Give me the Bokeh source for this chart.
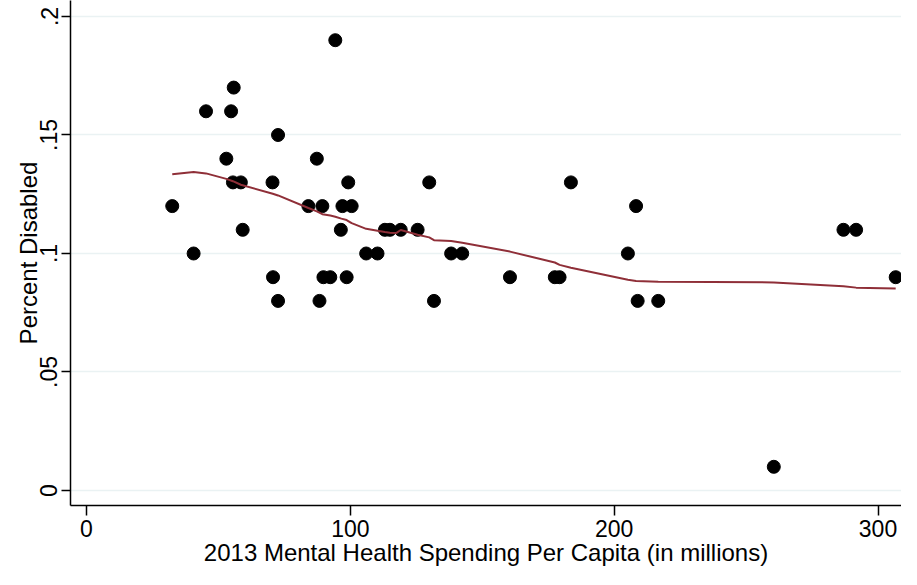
from bokeh.plotting import figure
from bokeh.models import FixedTicker, CustomJSTickFormatter, Range1d, ColumnDataSource
from bokeh.embed import file_html
from bokeh.resources import INLINE

# Scatter data: 2013 mental health spending per capita vs percent disabled
spending = [32.5, 40.6, 45.3, 53.0, 54.8, 55.8, 55.5, 58.5, 59.2, 70.5, 70.7, 72.6, 72.6,
            84.1, 87.3, 88.3, 89.4, 89.8, 92.4, 94.3, 96.4, 97.0, 98.6, 99.2, 100.5,
            106.0, 110.3, 113.1, 115.0, 119.1, 125.5, 129.9, 131.7, 138.2, 142.4,
            160.5, 177.5, 179.3, 183.6, 205.2, 208.3, 208.9, 216.7, 260.5, 286.9, 291.7, 306.7]
disabled = [0.12, 0.10, 0.16, 0.14, 0.16, 0.17, 0.13, 0.13, 0.11, 0.13, 0.09, 0.15, 0.08,
            0.12, 0.14, 0.08, 0.12, 0.09, 0.09, 0.19, 0.11, 0.12, 0.09, 0.13, 0.12,
            0.10, 0.10, 0.11, 0.11, 0.11, 0.11, 0.13, 0.08, 0.10, 0.10,
            0.09, 0.09, 0.09, 0.13, 0.10, 0.12, 0.08, 0.08, 0.01, 0.11, 0.11, 0.09]

# Lowess smoother
fit_x = [32.5, 40.6, 45.3, 53.0, 55.5, 58.5, 70.6, 72.6, 84.1, 87.3, 89.4, 92.4, 94.3,
         96.6, 98.6, 99.2, 100.5, 106.0, 110.3, 113.1, 115.0, 117.5, 119.1, 125.5, 129.9,
         131.7, 138.2, 142.4, 160.5, 177.5, 179.3, 183.6, 205.2, 208.3, 216.7, 260.5,
         286.9, 291.7, 306.7]
fit_y = [0.1334, 0.1344, 0.1338, 0.1315, 0.1305, 0.1290, 0.1252, 0.1245, 0.1192, 0.1178,
         0.1166, 0.1160, 0.1155, 0.1147, 0.1141, 0.1137, 0.1128, 0.1104, 0.1096, 0.1091,
         0.1088, 0.1087, 0.1099, 0.1079, 0.1068, 0.1056, 0.1053, 0.1045, 0.1008, 0.0962,
         0.0952, 0.0940, 0.0889, 0.0884, 0.0881, 0.0878, 0.0862, 0.0856, 0.0852]

x_ticks = [0, 100, 200, 300]
y_ticks = [0, 0.05, 0.1, 0.15, 0.2]

FONT = "Liberation Sans"

p = figure(width=901, height=569, output_backend="svg", toolbar_location=None,
           x_range=Range1d(-6.065, 308.9), y_range=Range1d(-0.00633, 0.20675),
           min_border_left=70, min_border_right=0, min_border_top=0, min_border_bottom=64)
p.outline_line_color = None
p.background_fill_color = "white"
p.border_fill_color = "white"

p.xgrid.visible = False
p.ygrid.grid_line_color = "#EAF2F3"
p.ygrid.grid_line_width = 1.5
p.ygrid.ticker = FixedTicker(ticks=y_ticks)

for ax in (p.xaxis[0], p.yaxis[0]):
    ax.axis_line_color = "black"
    ax.axis_line_width = 1.5
    ax.major_tick_line_color = "black"
    ax.major_tick_line_width = 1.5
    ax.major_tick_in = 0
    ax.minor_tick_line_color = None
    ax.major_label_text_font = FONT
    ax.major_label_text_font_size = "23px"
    ax.major_label_text_color = "black"
    ax.axis_label_text_font = FONT
    ax.axis_label_text_font_size = "24px"
    ax.axis_label_text_font_style = "normal"
    ax.axis_label_text_color = "black"

p.xaxis.ticker = FixedTicker(ticks=x_ticks)
p.xaxis.major_tick_out = 10
p.xaxis.major_label_standoff = 4
p.xaxis.axis_label = "2013 Mental Health Spending Per Capita (in millions)"
p.xaxis.axis_label_standoff = -1

p.yaxis.ticker = FixedTicker(ticks=y_ticks)
p.yaxis.major_tick_out = 9
p.yaxis.major_label_standoff = 4
p.yaxis.major_label_orientation = "vertical"
p.yaxis.formatter = CustomJSTickFormatter(code="""
    if (tick == 0) return "0";
    return tick.toFixed(2).replace(/^0/, "").replace(/0$/, "");
""")
p.yaxis.axis_label = "Percent Disabled"
p.yaxis.axis_label_standoff = -4

src = ColumnDataSource(dict(x=spending, y=disabled))
p.scatter("x", "y", source=src, size=13, fill_color="black", line_color="black")
p.line(fit_x, fit_y, line_color="#8F2F38", line_width=2)

open("out.html", "w").write(file_html(p, INLINE))
